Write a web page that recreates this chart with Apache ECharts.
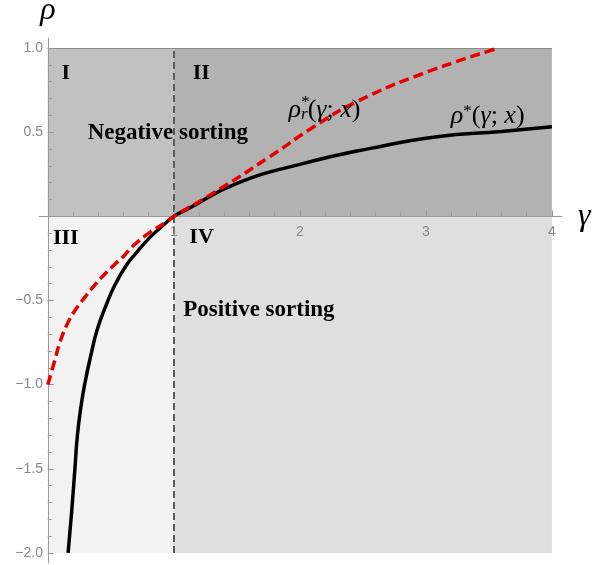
<!DOCTYPE html>
<html><head><meta charset="utf-8">
<script src="https://cdn.jsdelivr.net/npm/echarts@6/dist/echarts.min.js"></script>
<style>html,body{margin:0;padding:0;background:#fff}#c{width:594px;height:565px}</style>
</head><body><div id="c"></div>
<script>
// ---- data ----
const gammaTickLabels = [1, 2, 3, 4];
const gammaMinorTicks = [0.2,0.4,0.6,0.8,1.0,1.2,1.4,1.6,1.8,2.0,2.2,2.4,2.6,2.8,3.0,3.2,3.4,3.6,3.8,4.0];
const rhoTickLabels = [-2, -1.5, -1, -0.5, 0.5, 1];
const rhoMajorTicks = [-2, -1.5, -1, -0.5, 0.5, 1];
const rhoMinorTicks = [-2.0,-1.9,-1.8,-1.7,-1.6,-1.5,-1.4,-1.3,-1.2,-1.1,-1.0,-0.9,-0.8,-0.7,-0.6,-0.5,-0.4,-0.3,-0.2,-0.1,0.1,0.2,0.3,0.4,0.5,0.6,0.7,0.8,0.9,1.0];

// rho*(gamma; x) — black solid
const rhoStarGamma  = [0.161, 0.188, 0.214, 0.235, 0.267, 0.30, 0.339, 0.391, 0.458, 0.532, 0.624, 0.704, 0.81, 0.889, 1.0, 1.1, 1.5, 2.03, 2.56, 3.09, 3.6, 4.0];
const rhoStarValues = [-2.0, -1.765, -1.51, -1.30, -1.11, -0.97, -0.834, -0.676, -0.537, -0.408, -0.29, -0.215, -0.125, -0.07, 0.0, 0.04, 0.196, 0.315, 0.404, 0.473, 0.505, 0.532];

// rho_r*(gamma; x) — red dashed
const rhoRGamma  = [0.0, 0.05, 0.10, 0.167, 0.233, 0.30, 0.365, 0.43, 0.524, 0.603, 0.677, 0.81, 0.942, 1.0, 1.31, 1.76, 2.11, 2.45, 2.98, 3.574];
const rhoRValues = [-1.0, -0.87, -0.74, -0.62, -0.54, -0.475, -0.415, -0.36, -0.29, -0.235, -0.175, -0.095, -0.033, 0.0, 0.137, 0.354, 0.532, 0.681, 0.85, 1.0];

// regions [gamma0, rho0, gamma1, rho1]
const regionNames  = ['I', 'II', 'III', 'IV'];
const regionBounds = [[0, 0, 1, 1], [1, 0, 4, 1], [0, -2, 1, 0], [1, -2, 4, 0]];
const boundaryGamma = 1;

// annotation anchors (data coordinates)
const regionLabelAnchors = [[0.143, 0.848], [1.218, 0.848], [0.143, -0.129], [1.22, -0.123]];
const sortingTexts = ['Negative sorting', 'Positive sorting'];
const sortingAnchors = [[0.952, 0.494], [1.675, -0.557]];
const curveLabelAnchors = { rhoR: [2.196, 0.632], rhoStar: [3.49, 0.595] };

// ---- chart ----
const regionColors = ['#c1c1c1', '#b2b2b2', '#f2f2f2', '#dfdfdf'];
const zip = (a, b) => a.map((v, i) => [v, b[i]]);
const serif = 'Liberation Serif';
const mathRich = {
  rho: { fontFamily: serif, fontStyle: 'italic', fontSize: 26, color: '#000' },
  i:   { fontFamily: serif, fontStyle: 'italic', fontSize: 26, color: '#000' },
  p:   { fontFamily: serif, fontSize: 26, color: '#000' },
  sup: { fontFamily: serif, fontSize: 17, color: '#000', verticalAlign: 'top', lineHeight: 12 },
  sub: { fontFamily: serif, fontStyle: 'italic', fontSize: 17, color: '#000', verticalAlign: 'bottom', lineHeight: 12 }
};
const txt = (s, weight, size) => ({ formatter: s, fontFamily: serif, fontWeight: weight, fontSize: size, color: '#000' });

const chart = echarts.init(document.getElementById('c'), null, { renderer: 'canvas' });
const axisColor = '#999';
const option = {
  animation: false,
  grid: { left: 39, right: 32, top: 38, bottom: 2, containLabel: false, outerBoundsMode: 'none' },
  xAxis: [{
    type: 'value', min: -0.07, max: 4.08, z: 5,
    name: 'γ', nameLocation: 'end', nameGap: 16,
    nameTextStyle: { fontFamily: serif, fontStyle: 'italic', fontSize: 32, color: '#000', verticalAlign: 'middle', padding: [0, 0, 2, 0] },
    axisLine: { onZero: true, lineStyle: { color: axisColor, width: 1 } },
    axisTick: { inside: true, length: 6, customValues: gammaTickLabels, lineStyle: { color: axisColor } },
    axisLabel: { customValues: gammaTickLabels, color: '#888', fontFamily: 'Liberation Sans', fontSize: 14, margin: -338 },
    splitLine: { show: false }
  }, {
    type: 'value', min: -0.07, max: 4.08, position: 'bottom', z: 5,
    axisLine: { show: false, onZero: true },
    axisTick: { inside: true, length: 4, customValues: gammaMinorTicks, lineStyle: { color: axisColor } },
    axisLabel: { show: false },
    splitLine: { show: false }
  }],
  yAxis: [{
    type: 'value', min: -2.06, max: 1.06, z: 5,
    name: 'ρ', nameLocation: 'end', nameGap: 11,
    nameTextStyle: { fontFamily: serif, fontStyle: 'italic', fontSize: 32, color: '#000', align: 'center' },
    axisLine: { onZero: true, lineStyle: { color: axisColor, width: 1 } },
    axisTick: { inside: true, length: 6, customValues: rhoMajorTicks, lineStyle: { color: axisColor } },
    axisLabel: {
      customValues: rhoTickLabels, color: '#888', fontFamily: 'Liberation Sans', fontSize: 14, margin: -4,
      formatter: v => v.toFixed(1).replace('-', '\u2212')
    },
    splitLine: { show: false }
  }, {
    type: 'value', min: -2.06, max: 1.06, position: 'left', z: 5,
    axisLine: { show: false, onZero: true },
    axisTick: { inside: true, length: 4, customValues: rhoMinorTicks, lineStyle: { color: axisColor } },
    axisLabel: { show: false },
    splitLine: { show: false }
  }],
  series: [
    {
      name: 'regions', type: 'line', data: [], z: 1,
      markArea: {
        silent: true,
        data: regionBounds.map((b, i) => [
          { xAxis: b[0], yAxis: b[1], itemStyle: { color: regionColors[i], borderWidth: 0 } },
          { xAxis: b[2], yAxis: b[3] }
        ])
      },
      markLine: {
        silent: true, symbol: 'none', label: { show: false },
        data: [
          [{ coord: [boundaryGamma, -2], lineStyle: { color: '#5a5a5a', width: 2, type: [7, 4] } }, { coord: [boundaryGamma, 1] }],
          [{ coord: [0, 1], lineStyle: { color: '#8a8a8a', width: 1, type: 'solid' } }, { coord: [4, 1] }]
        ]
      }
    },
    {
      name: 'rhoStar', type: 'line', z: 6, showSymbol: false, smooth: 0.5,
      data: zip(rhoStarGamma, rhoStarValues),
      lineStyle: { color: '#000', width: 3.5 }
    },
    {
      name: 'rhoR', type: 'line', z: 7, showSymbol: false, smooth: 0.5,
      data: zip(rhoRGamma, rhoRValues),
      lineStyle: { color: '#e60000', width: 3.5, type: [10, 5] }
    },
    {
      name: 'labels', type: 'scatter', z: 8, symbolSize: 0, silent: true,
      itemStyle: { opacity: 1 },
      data: [
        ...regionNames.map((n, i) => ({ value: regionLabelAnchors[i], label: txt(n, 'bold', 22) })),
        { value: sortingAnchors[0], label: txt(sortingTexts[0], 'bold', 23) },
        { value: sortingAnchors[1], label: txt(sortingTexts[1], 'bold', 23) },
        { value: curveLabelAnchors.rhoR, label: { formatter: '{rho|ρ}{sub|r}{p|(}{i|γ}{p|; }{i|x}{p|)}', rich: mathRich } },
        { value: curveLabelAnchors.rhoR, label: { formatter: '{sup|*}', rich: mathRich, offset: [-19, -10] } },
        { value: curveLabelAnchors.rhoStar, label: { formatter: '{rho|ρ}{sup|*}{p|(}{i|γ}{p|; }{i|x}{p|)}', rich: mathRich } }
      ],
      label: { show: true, position: 'inside', color: '#000', align: 'center', verticalAlign: 'middle' }
    }
  ]
};
chart.setOption(option);
</script>
</body></html>
